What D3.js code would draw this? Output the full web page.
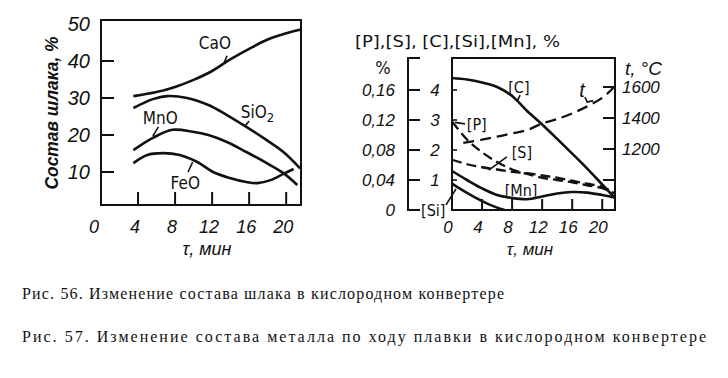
<!DOCTYPE html>
<html><head><meta charset="utf-8">
<script src="https://cdn.jsdelivr.net/npm/d3@7"></script>
<style>
html,body{margin:0;padding:0;background:#fff;}
svg{display:block;}
.num{font-family:"Liberation Sans","DejaVu Sans",sans-serif;font-style:italic;fill:#111;}
.lab{font-family:"Liberation Sans Narrow","DejaVu Sans Condensed","Liberation Sans",sans-serif;fill:#111;}
.cap{font-family:"Liberation Serif","Tinos","Times New Roman","Noto Serif","DejaVu Serif",serif;fill:#111;}
</style></head><body>
<svg id="c" width="728" height="378"></svg>
<script>
// ================= DATA =================
// Fig. 56 — slag composition, % vs time, min
const slagXTicks = [0, 4, 8, 12, 16, 20];
const slagYTicks = [10, 20, 30, 40, 50];
const caoT  = [3.5, 6, 8, 10, 12, 14, 16, 18, 20, 21.6];
const caoV  = [30.5, 31.6, 33, 34.9, 37.3, 40.5, 43.3, 45.8, 47.5, 48.5];
const sio2T = [3.5, 5.6, 7.1, 9.3, 11.6, 13.6, 15.7, 17.9, 19.7, 21.5];
const sio2V = [27.3, 29.7, 30.5, 30, 28.1, 25.4, 22.2, 18.6, 15.4, 11];
const mnoT  = [3.5, 5.6, 7.7, 9.9, 11.6, 13.6, 15.7, 17.9, 19.7, 21.2];
const mnoV  = [15.9, 19.2, 21.4, 20.9, 20, 18.1, 15.4, 12.4, 9.7, 6.5];
const feoT  = [3.5, 5, 6.7, 8.5, 10.4, 12.1, 13.9, 15.7, 16.9, 18.3, 19.7, 20.8];
const feoV  = [12.4, 14.6, 15.1, 14.6, 12.7, 10, 8.4, 7.3, 7, 7.8, 9.5, 10.8];

// Fig. 57 — metal composition vs time, min
const metXTicks = [0, 4, 8, 12, 16, 20];
const metUnitTicks = [0, 1, 2, 3, 4];                 // [C],[Si],[Mn], %
const metPSTicks = ["0", "0,04", "0,08", "0,12", "0,16"]; // [P],[S], %
const tempTicks = [1000, 1200, 1400, 1600];
const tempTickLabels = ["", "1200", "1400", "1600"];
const cT  = [0, 2, 4, 6, 8, 10, 12, 14, 16, 18, 20, 21.7];
const cV  = [4.4, 4.35, 4.25, 4.1, 3.8, 3.3, 2.85, 2.37, 1.88, 1.38, 0.85, 0.4];
const pT  = [0, 2, 4, 6, 8, 10, 12, 14, 16, 18, 20, 21.7];
const pV  = [0.118, 0.094, 0.077, 0.064, 0.054, 0.048, 0.043, 0.040, 0.037, 0.033, 0.029, 0.022];
const sT  = [0, 2, 4, 6, 8, 10, 12, 14, 16, 18, 20, 21.7];
const sV  = [0.067, 0.061, 0.057, 0.054, 0.051, 0.049, 0.046, 0.043, 0.039, 0.035, 0.031, 0.022];
const mnT = [0, 2, 4, 6, 8, 10, 12, 14, 16, 18, 20, 21.7];
const mnV = [1.3, 1.0, 0.72, 0.5, 0.4, 0.36, 0.45, 0.55, 0.6, 0.58, 0.5, 0.42];
const siT = [0, 1, 2, 3, 4, 5, 6, 7];
const siV = [0.88, 0.72, 0.57, 0.43, 0.3, 0.18, 0.08, 0];
const tmT = [1.5, 4, 6, 8, 10, 12, 14, 16, 18, 20, 21.6];
const tmV = [1240, 1260, 1280, 1300, 1322, 1365, 1393, 1430, 1475, 1530, 1600];

const caption1 = "Рис. 56. Изменение состава шлака в кислородном конвертере";
const caption2 = "Рис. 57. Изменение состава металла по ходу плавки в кислородном конвертере";

// ================= DRAW =================
const svg = d3.select("#c");
const INK = "#111";

// ---------- left chart ----------
const L = {x0: 101, x1: 301, y0: 20, y1: 205};
const xL = d3.scaleLinear().domain([0, 21.6]).range([L.x0, L.x1]);
const yL = d3.scaleLinear().domain([0, 50]).range([209, 24]);
const gL = svg.append("g");
gL.append("rect").attr("x", L.x0).attr("y", L.y0).attr("width", L.x1 - L.x0).attr("height", L.y1 - L.y0)
  .attr("fill", "none").attr("stroke", INK).attr("stroke-width", 2);
gL.selectAll(".yt").data(slagYTicks.filter(d => d < 50)).join("line")
  .attr("x1", L.x0).attr("x2", L.x0 + 13).attr("y1", d => yL(d)).attr("y2", d => yL(d))
  .attr("stroke", INK).attr("stroke-width", 2);
gL.selectAll(".yl").data(slagYTicks).join("text").attr("class", "num")
  .attr("x", L.x0 - 11).attr("y", d => yL(d)).attr("dy", "0.36em").attr("text-anchor", "end")
  .attr("font-size", 20).text(d => d);
gL.selectAll(".xt").data(slagXTicks.filter(d => d > 0)).join("line")
  .attr("x1", d => xL(d)).attr("x2", d => xL(d)).attr("y1", L.y1).attr("y2", L.y1 - 13)
  .attr("stroke", INK).attr("stroke-width", 2);
gL.selectAll(".xl").data(slagXTicks).join("text").attr("class", "num")
  .attr("x", d => xL(d) - (d === 0 ? 7 : 3)).attr("y", 233).attr("text-anchor", "middle")
  .attr("font-size", 18).text(d => d);
gL.append("text").attr("class", "num").attr("x", 207).attr("y", 255).attr("text-anchor", "middle")
  .attr("font-size", 18).text("τ, мин");
gL.append("text").attr("class", "num").attr("font-weight", "bold")
  .attr("transform", "translate(58,113) rotate(-90)").attr("text-anchor", "middle")
  .attr("font-size", 19).attr("textLength", 153).attr("lengthAdjust", "spacingAndGlyphs")
  .text("Состав шлака, %");

const lineL = d3.line().x(d => xL(d[0])).y(d => yL(d[1])).curve(d3.curveCatmullRom.alpha(0.5));
[[caoT, caoV], [sio2T, sio2V], [mnoT, mnoV], [feoT, feoV]].forEach(([t, v]) => {
  gL.append("path").attr("d", lineL(d3.zip(t, v))).attr("fill", "none")
    .attr("stroke", INK).attr("stroke-width", 2.6);
});
const slagLabels = [
  {txt: "CaO", t: 12.3, v: 44.9, lead: [[13.6, 41.4], [13.3, 39.5]]},
  {txt: "SiO", sub: "2", t: 16.9, v: 26.2, lead: [[16.0, 23.8], [15.5, 22.2]]},
  {txt: "MnO", t: 6.4, v: 24.6, lead: [[6.2, 22.2], [5.6, 19.7]]},
  {txt: "FeO", t: 9.1, v: 7.0, lead: [[9.4, 10], [9.9, 12.7]]}
];
slagLabels.forEach(d => {
  const tx = gL.append("text").attr("class", "lab").attr("x", xL(d.t)).attr("y", yL(d.v))
    .attr("dy", "0.36em").attr("text-anchor", "middle").attr("font-size", 17).text(d.txt);
  if (d.sub) tx.append("tspan").attr("dy", 4).attr("font-size", 13).text(d.sub);
  gL.append("path").attr("d", d3.line().x(p => xL(p[0])).y(p => yL(p[1]))(d.lead))
    .attr("fill", "none").attr("stroke", INK).attr("stroke-width", 1.6);
});

// ---------- right chart ----------
const R = {x0: 452, x1: 615, y0: 58, y1: 210, ax: 408};
const xR = d3.scaleLinear().domain([0, 21.7]).range([R.x0, R.x1]);
const yR = d3.scaleLinear().domain([0, 5]).range([210, 60]);          // [C],[Si],[Mn] %
const yPS = d3.scaleLinear().domain([0, 0.2]).range([210, 60]);       // [P],[S] %
const yT = d3.scaleLinear().domain([1200, 1600]).range([149, 87]);    // °C
const gR = svg.append("g");
gR.append("rect").attr("x", R.x0).attr("y", R.y0).attr("width", R.x1 - R.x0).attr("height", R.y1 - R.y0)
  .attr("fill", "none").attr("stroke", INK).attr("stroke-width", 2);
// separate left axis
gR.append("path").attr("d", `M${R.ax + 12},${R.y0}H${R.ax}V${R.y1}H${R.ax + 12}`)
  .attr("fill", "none").attr("stroke", INK).attr("stroke-width", 2);
gR.selectAll(".at").data(metUnitTicks.filter(d => d > 0)).join("line")
  .attr("x1", R.ax).attr("x2", R.ax + 12).attr("y1", d => yR(d)).attr("y2", d => yR(d))
  .attr("stroke", INK).attr("stroke-width", 2);
gR.selectAll(".ft").data(metUnitTicks.filter(d => d > 0)).join("line")
  .attr("x1", R.x0).attr("x2", R.x0 + 5).attr("y1", d => yR(d)).attr("y2", d => yR(d))
  .attr("stroke", INK).attr("stroke-width", 1.6);
gR.selectAll(".ul").data(metUnitTicks.filter(d => d > 0)).join("text").attr("class", "num")
  .attr("x", 435).attr("y", d => yR(d)).attr("dy", "0.36em").attr("text-anchor", "middle")
  .attr("font-size", 17).text(d => d);
gR.selectAll(".pl").data(metPSTicks).join("text").attr("class", "num")
  .attr("x", 395).attr("y", (d, i) => yR(metUnitTicks[i])).attr("dy", "0.36em").attr("text-anchor", "end")
  .attr("font-size", 17).text(d => d);
gR.append("text").attr("class", "lab").attr("x", 383).attr("y", 68).attr("dy", "0.36em")
  .attr("text-anchor", "middle").attr("font-size", 18).text("%");
gR.append("text").attr("class", "lab").attr("x", 355).attr("y", 42).attr("dy", "0.36em")
  .attr("font-size", 15).attr("textLength", 205).attr("lengthAdjust", "spacingAndGlyphs")
  .text("[P],[S], [C],[Si],[Mn], %");
// right temperature axis
gR.selectAll(".tt").data(tempTicks).join("line")
  .attr("x1", R.x1).attr("x2", R.x1 - 12).attr("y1", d => yT(d)).attr("y2", d => yT(d))
  .attr("stroke", INK).attr("stroke-width", 2);
gR.selectAll(".tl").data(tempTicks).join("text").attr("class", "num")
  .attr("x", R.x1 + 7).attr("y", d => yT(d)).attr("dy", "0.36em")
  .attr("font-size", 17).text((d, i) => tempTickLabels[i]);
const tc = gR.append("text").attr("class", "num").attr("x", R.x1 + 10).attr("y", 75).attr("font-size", 19);
tc.append("tspan").text("t,");
tc.append("tspan").attr("dx", 5).text("°C");
// x axis
gR.selectAll(".xt").data(metXTicks.filter(d => d > 0)).join("line")
  .attr("x1", d => xR(d)).attr("x2", d => xR(d)).attr("y1", R.y1).attr("y2", R.y1 - 11)
  .attr("stroke", INK).attr("stroke-width", 2);
gR.selectAll(".xl").data(metXTicks).join("text").attr("class", "num")
  .attr("x", d => xR(d) - 4).attr("y", 233).attr("text-anchor", "middle")
  .attr("font-size", 17).text(d => d);
gR.append("text").attr("class", "num").attr("x", 530).attr("y", 255).attr("text-anchor", "middle")
  .attr("font-size", 17).text("τ, мин");

const curve = d3.curveCatmullRom.alpha(0.5);
const lineR = d3.line().x(d => xR(d[0])).y(d => yR(d[1])).curve(curve);
const linePS = d3.line().x(d => xR(d[0])).y(d => yPS(d[1])).curve(curve);
const lineT = d3.line().x(d => xR(d[0])).y(d => yT(d[1])).curve(curve);
[[cT, cV], [mnT, mnV], [siT, siV]].forEach(([t, v]) => {
  gR.append("path").attr("d", lineR(d3.zip(t, v))).attr("fill", "none")
    .attr("stroke", INK).attr("stroke-width", 2.6);
});
[[pT, pV], [sT, sV]].forEach(([t, v]) => {
  gR.append("path").attr("d", linePS(d3.zip(t, v))).attr("fill", "none")
    .attr("stroke", INK).attr("stroke-width", 2.3).attr("stroke-dasharray", "10,5");
});
gR.append("path").attr("d", lineT(d3.zip(tmT, tmV))).attr("fill", "none")
  .attr("stroke", INK).attr("stroke-width", 2.3).attr("stroke-dasharray", "11,6");

const metLabels = [
  {txt: "[C]", t: 8.9, v: 4.1, lead: [[9.07, 3.83], [8.67, 3.63]]},
  {txt: "[P]", t: 3.3, v: 2.87, lead: [[1.73, 2.87], [0.4, 2.92]]},
  {txt: "[S]", t: 9.3, v: 1.93, lead: [[7.3, 1.77], [4.9, 1.33]]},
  {txt: "[Mn]", t: 9.2, v: 0.67, lead: null},
  {txt: "[Si]", t: -2.5, v: 0, lead: [[-0.8, 0.17], [0.53, 0.7]]}
];
metLabels.forEach(d => {
  gR.append("text").attr("class", "lab").attr("x", xR(d.t)).attr("y", yR(d.v))
    .attr("dy", "0.36em").attr("text-anchor", "middle").attr("font-size", 16).text(d.txt);
  if (d.lead) gR.append("path").attr("d", d3.line().x(p => xR(p[0])).y(p => yR(p[1]))(d.lead))
    .attr("fill", "none").attr("stroke", INK).attr("stroke-width", 1.6);
});
// temperature label
gR.append("text").attr("class", "num").attr("x", xR(17.3)).attr("y", yT(1580)).attr("dy", "0.36em")
  .attr("text-anchor", "middle").attr("font-size", 20).text("t");
gR.append("path").attr("d", d3.line().x(p => xR(p[0])).y(p => yT(p[1]))([[17.7, 1535], [18.0, 1503], [18.8, 1512]]))
  .attr("fill", "none").attr("stroke", INK).attr("stroke-width", 1.6);

// ---------- captions ----------
svg.append("text").attr("class", "cap").attr("x", 22).attr("y", 299).attr("font-size", 16)
  .attr("textLength", 482).attr("lengthAdjust", "spacing").text(caption1);
svg.append("text").attr("class", "cap").attr("x", 22).attr("y", 342).attr("font-size", 16)
  .attr("textLength", 684).attr("lengthAdjust", "spacing").text(caption2);
</script>
</body></html>
